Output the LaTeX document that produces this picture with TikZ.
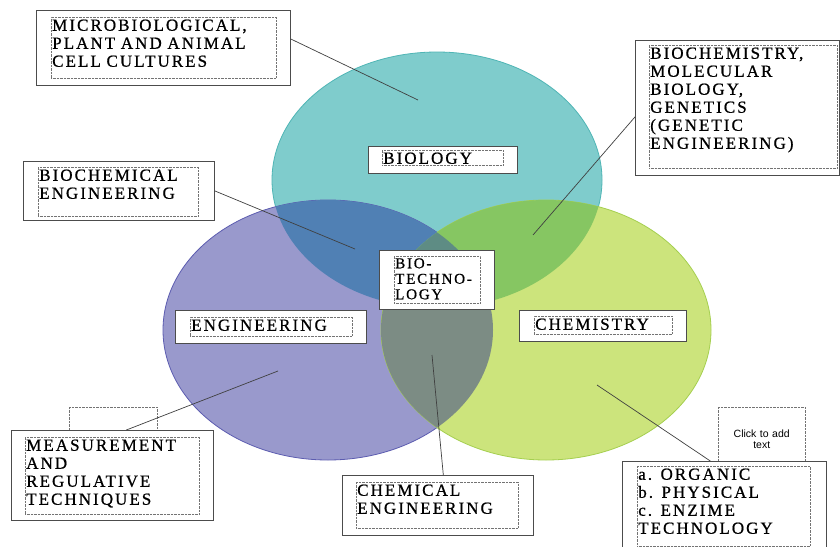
\documentclass[tikz,border=0pt]{standalone}
\usepackage{fontspec}
\setmainfont{Liberation Serif}
\newfontfamily\boxfont{Liberation Serif}[LetterSpace=12, WordSpace=1.8, FakeBold=0.8]
\newfontfamily\hintfont{Liberation Sans}
\usetikzlibrary{positioning}

\definecolor{biofill}{HTML}{7FCCCC}
\definecolor{bioedge}{HTML}{4FB5B5}
\definecolor{engfill}{HTML}{9999CC}
\definecolor{engedge}{HTML}{5C5CB0}
\definecolor{chemfill}{HTML}{CCE47C}
\definecolor{chemedge}{HTML}{A5CF4F}
\definecolor{bioengfill}{HTML}{5080B4}
\definecolor{biochemfill}{HTML}{86C662}
\definecolor{engchemfill}{HTML}{7C8C84}
\definecolor{allfill}{HTML}{5E8C84}
\definecolor{linkgray}{HTML}{404040}

\begin{document}
\begin{tikzpicture}[
    x=1pt, y=-1pt,
    font=\boxfont\fontsize{17}{18}\selectfont,
    frame/.style   = {rectangle, draw=black!70, line width=0.9pt, fill=white,
                      inner sep=0pt, anchor=north west},
    textbox/.style = {rectangle, draw=black!55, line width=0.5pt,
                      dash pattern=on 0.7pt off 0.7pt, align=left,
                      inner sep=1pt, text height=12.5pt},
    hintbox/.style = {rectangle, draw=black!55, line width=0.5pt,
                      dash pattern=on 0.7pt off 0.7pt, inner sep=0pt,
                      anchor=north west, align=center,
                      font=\hintfont\fontsize{10.5}{11}\selectfont},
    link/.style    = {draw=linkgray, line width=0.7pt}
]

\useasboundingbox[fill=white] (0,0) rectangle (840,546);

% --- Circles -----------------------------------------------------------------
\filldraw[fill=biofill,  draw=bioedge,  line width=0.8pt]
  (437,180) ellipse [x radius=165, y radius=128];
\filldraw[fill=engfill,  draw=engedge,  line width=0.8pt]
  (328,330) ellipse [x radius=165, y radius=130];
\filldraw[fill=chemfill, draw=chemedge, line width=0.8pt]
  (546,330) ellipse [x radius=165, y radius=130];

% overlaps
\begin{scope}
  \clip (328,330) ellipse [x radius=165, y radius=130];
  \fill[engchemfill] (546,330) ellipse [x radius=165, y radius=130];
\end{scope}
\begin{scope}
  \clip (437,180) ellipse [x radius=165, y radius=128];
  \fill[bioengfill]  (328,330) ellipse [x radius=165, y radius=130];
  \fill[biochemfill] (546,330) ellipse [x radius=165, y radius=130];
  \clip (328,330) ellipse [x radius=165, y radius=130];
  \fill[allfill]     (546,330) ellipse [x radius=165, y radius=130];
\end{scope}

% --- Empty placeholders -------------------------------------------------------
\node[hintbox, minimum width=88pt, minimum height=40pt] (measurehint) at (69,407) {};
\node[hintbox, text width=87pt, text height=30pt, text depth=40pt]
  (clickhint) at (718,407) {Click to add\\text};

% --- Frames ------------------------------------------------------------------
\node[frame, minimum width=254pt, minimum height=75pt]  (microb)  at (36,10)  {};
\node[frame, minimum width=204pt, minimum height=135pt] (biochem) at (635,40)  {};
\node[frame, minimum width=191pt, minimum height=59pt]  (bioeng)  at (23,161)  {};
\node[frame, minimum width=115pt, minimum height=59pt]  (biotech) at (379,250) {};
\node[frame, minimum width=149pt, minimum height=27pt]  (biology) at (368,146) {};
\node[frame, minimum width=191pt, minimum height=33pt]  (engin)   at (175,310) {};
\node[frame, minimum width=167pt, minimum height=31pt]  (chem)    at (519,310) {};
\node[frame, minimum width=202pt, minimum height=90pt]  (measure) at (11,430)  {};
\node[frame, minimum width=191pt, minimum height=60pt]  (chemeng) at (342,475) {};
\node[frame, minimum width=204pt, minimum height=86pt]  (organic) at (622,461) {};

% --- Texts -------------------------------------------------------------------
\node[textbox, text width=223pt, text depth=46.5pt,
      below right=7pt and 15pt of microb.north west]  (microbtxt)
  {MICROBIOLOGICAL,\\PLANT AND ANIMAL\\CELL CULTURES};
\node[textbox, text width=186pt, text depth=108.5pt,
      below right=5pt and 14pt of biochem.north west] (biochemtxt)
  {BIOCHEMISTRY,\\MOLECULAR\\BIOLOGY,\\GENETICS\\(GENETIC\\ENGINEERING)};
\node[textbox, text width=158pt, text depth=34.5pt,
      below right=6pt and 15pt of bioeng.north west]  (bioengtxt)
  {BIOCHEMICAL\\ENGINEERING};
\node[textbox, text width=84pt, text height=11pt, text depth=34pt,
      font=\boxfont\fontsize{15}{15.5}\selectfont,
      below right=6pt and 15pt of biotech.north west] (biotechtxt)
  {BIO-\\TECHNO-\\LOGY};
\node[textbox, text width=119pt, text depth=0.5pt,
      below right=4pt and 14pt of biology.north west] (biologytxt)
  {BIOLOGY};
\node[textbox, text width=160pt, text depth=4.5pt,
      below right=7pt and 15pt of engin.north west]   (engintxt)
  {ENGINEERING};
\node[textbox, text width=136pt, text depth=3.5pt,
      below right=6pt and 15pt of chem.north west]    (chemtxt)
  {CHEMISTRY};
\node[textbox, text width=172pt, text depth=62.5pt,
      below right=7pt and 14pt of measure.north west] (measuretxt)
  {MEASUREMENT\\AND\\REGULATIVE\\TECHNIQUES};
\node[textbox, text width=160pt, text depth=31.5pt,
      below right=7pt and 14pt of chemeng.north west] (chemengtxt)
  {CHEMICAL\\ENGINEERING};
\node[textbox, text width=171pt, text depth=65.5pt,
      below right=5pt and 15pt of organic.north west] (organictxt)
  {a. ORGANIC\\b. PHYSICAL\\c. ENZIME\\TECHNOLOGY};

% --- Links -------------------------------------------------------------------
\coordinate (microbend)  at (418,100);
\coordinate (biochemend) at (533,235);
\coordinate (bioengend)  at (355,249);
\coordinate (measureend) at (278,371);
\coordinate (chemengend) at (432,355);
\coordinate (organicend) at (597,385);

\draw[link] (microb.4)    -- (microbend);
\draw[link] (biochem.185) -- (biochemend);
\draw[link] (bioeng.east) -- (bioengend);
\draw[link] (measure.73)  -- (measureend);
\draw[link] (chemeng.80)  -- (chemengend);
\draw[link] (organic.108) -- (organicend);

\end{tikzpicture}
\end{document}
